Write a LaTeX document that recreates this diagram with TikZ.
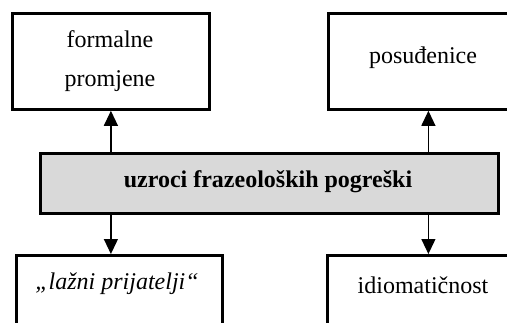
\documentclass[tikz,border=0pt]{standalone}
\usepackage{fontspec}
\setmainfont{Liberation Serif}
\usetikzlibrary{arrows.meta}
\begin{document}
\begin{tikzpicture}[x=0.5pt,y=-0.5pt,
  box/.style={draw, line width=1.4pt, inner sep=0pt, anchor=north west},
  lbl/.style={font=\fontsize{12}{19.5}\selectfont, inner sep=0pt, anchor=base},
  arr/.style={line width=0.6pt, -{Triangle[width=7pt,length=7.5pt]}}]
\useasboundingbox (0,0) rectangle (507,322);
\clip (0,0) rectangle (507,322);
\node[box, minimum width=98.5pt, minimum height=48pt] (fp) at (11,12) {};
\node[box, minimum width=100pt, minimum height=48pt] (po) at (327,12) {};
\node[box, fill=gray!30, minimum width=229pt, minimum height=30pt] (uz) at (39,152) {};
\node[box, minimum width=103pt, minimum height=50pt] (lp) at (15,254) {};
\node[box, minimum width=103pt, minimum height=50pt] (id) at (326,254) {};
\node[lbl, align=center] (fpt) at (110,86) {formalne\\promjene};
\node[lbl] (pot) at (423,63) {posuđenice};
\node[lbl, font=\fontsize{12}{14}\selectfont\bfseries] (uzt) at (268,187) {uzroci frazeoloških pogreški};
\node[lbl, font=\fontsize{12}{14}\selectfont\itshape] (lpt) at (117,289) {„lažni prijatelji“};
\node[lbl] (idt) at (423,293) {idiomatičnost};
\draw[arr] (fp.south |- uz.north) -- (fp.south);
\draw[arr] (po.south |- uz.north) -- (po.south);
\draw[arr] (fp.south |- uz.south) -- (fp.south |- lp.north);
\draw[arr] (po.south |- uz.south) -- (po.south |- id.north);
\end{tikzpicture}
\end{document}
